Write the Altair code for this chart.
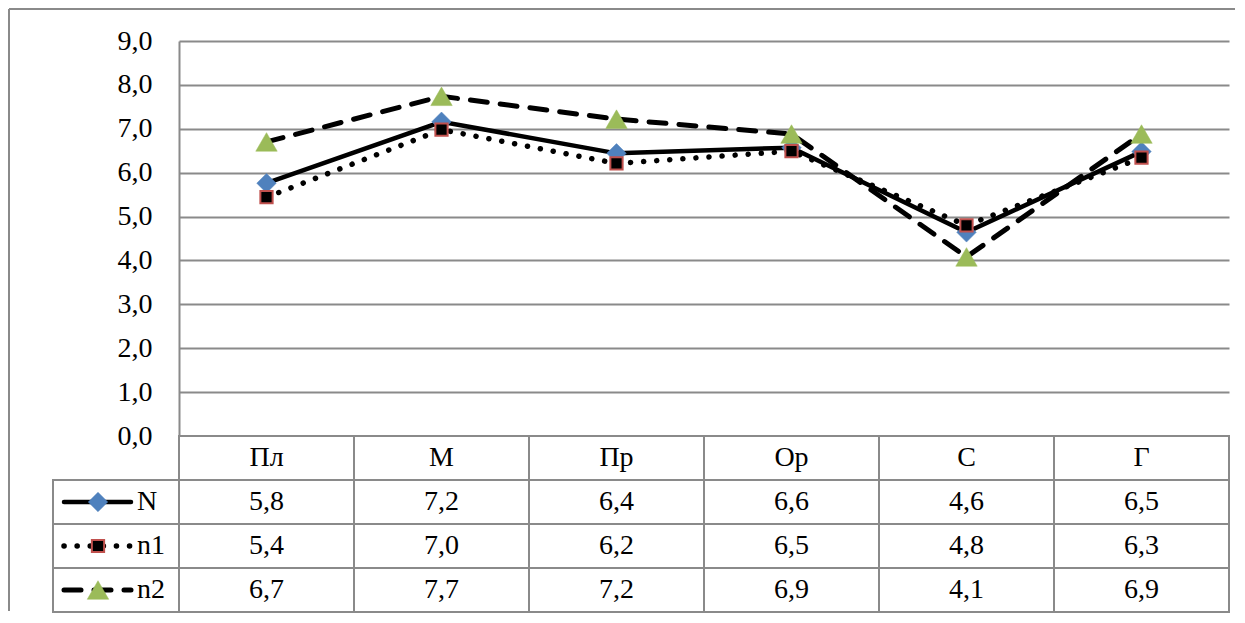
import altair as alt
import pandas as pd

categories = ["Пл", "М", "Пр", "Ор", "С", "Г"]
series_names = ["N", "n1", "n2"]
values_N = [5.76, 7.16, 6.44, 6.57, 4.64, 6.48]
values_n1 = [5.44, 6.98, 6.21, 6.49, 4.80, 6.34]
values_n2 = [6.70, 7.74, 7.22, 6.88, 4.08, 6.88]
y_ticks = [0, 1, 2, 3, 4, 5, 6, 7, 8, 9]

GRID = "#8a8a8a"
FONT = "Liberation Serif, Times New Roman, serif"
FS = 28

rows = []
for s, vals in zip(series_names, [values_N, values_n1, values_n2]):
    for c, v in zip(categories, vals):
        rows.append({"series": s, "cat": c, "value": v,
                     "label": f"{v:.1f}".replace(".", ",")})
df = pd.DataFrame(rows)

styles = {
    "N": dict(line=dict(strokeWidth=4.5),
              point=dict(shape="diamond", size=380, fill="#4F81BD", stroke="#4F81BD", strokeWidth=0.5)),
    "n1": dict(line=dict(strokeWidth=5.5, strokeDash=[0.1, 13]),
               point=dict(shape="square", size=150, fill="black", stroke="#C0504D", strokeWidth=2)),
    "n2": dict(line=dict(strokeWidth=5, strokeDash=[17, 13]),
               point=dict(shape="triangle-up", size=460, fill="#9BBB59", stroke="#9BBB59", strokeWidth=0.5)),
}

xs = alt.X("cat:N", sort=categories,
           scale=alt.Scale(type="point", domain=categories, padding=0.5), axis=None)
ys = alt.Y("value:Q",
           scale=alt.Scale(domain=[0, 9], nice=False, zero=True),
           axis=alt.Axis(values=y_ticks, grid=True, ticks=False, title=None,
                         labelExpr="replace(format(datum.value, '.1f'), '.', ',')",
                         labelFont=FONT, labelFontSize=FS, labelColor="black",
                         labelPadding=27, domain=True, domainColor=GRID, domainWidth=2,
                         gridColor=GRID, gridWidth=2))

one = pd.DataFrame({"k": [0]})
frame_left = alt.Chart(one).mark_rule(color=GRID, strokeWidth=2).encode(
    x=alt.value(-170), y=alt.value(-32), y2=alt.value(570))
frame_top = alt.Chart(one).mark_rule(color=GRID, strokeWidth=2).encode(
    x=alt.value(-170), x2=alt.value(1056), y=alt.value(-32))

layers = [frame_left, frame_top]
for s in series_names:
    st = styles[s]
    sub = alt.Chart(df).transform_filter(alt.datum.series == s)
    layers.append(sub.mark_line(color="black", strokeCap="round", **st["line"]).encode(x=xs, y=ys))
    layers.append(sub.mark_point(filled=True, opacity=1, **st["point"]).encode(x=xs, y=ys))

plot = alt.layer(*layers).properties(width=1050, height=395)

# ---- data table ----
row_order = ["hdr"] + series_names
cells = [{"row": "hdr", "cat": c, "text": c} for c in categories]
cells += [{"row": r["series"], "cat": r["cat"], "text": r["label"]} for r in rows]
cells_df = pd.DataFrame(cells)
legend_df = pd.DataFrame({"row": series_names, "name": series_names})

tx = alt.X("cat:N", sort=categories,
           scale=alt.Scale(domain=categories, paddingInner=0, paddingOuter=0), axis=None)
tscale = alt.Scale(domain=row_order, paddingInner=0, paddingOuter=0)
ty = alt.Y("row:N", sort=row_order, scale=tscale, axis=None)
tyc = alt.Y("row:N", sort=row_order, scale=tscale, axis=None, bandPosition=0.5)

tbase = alt.Chart(cells_df)
t_rects = tbase.mark_rect(fill="white", stroke=GRID, strokeWidth=2).encode(x=tx, y=ty)
t_texts = tbase.mark_text(font=FONT, fontSize=FS, color="black", baseline="middle").encode(
    x=tx, y=tyc, text="text:N")

lbase = alt.Chart(legend_df)
l_rects = lbase.mark_rect(fill="white", stroke=GRID, strokeWidth=2).encode(
    x=alt.value(-126), x2=alt.value(0), y=ty)
l_texts = lbase.mark_text(font=FONT, fontSize=FS, color="black", align="left",
                          baseline="middle").encode(x=alt.value(-42), y=tyc, text="name:N")

t_layers = [t_rects, t_texts, l_rects, l_texts]
for s in series_names:
    st = styles[s]
    sub = lbase.transform_filter(alt.datum.row == s)
    t_layers.append(sub.mark_rule(color="black", strokeCap="round", **st["line"]).encode(
        x=alt.value(-115), x2=alt.value(-48), y=tyc))
    t_layers.append(sub.mark_point(filled=True, opacity=1, **st["point"]).encode(
        x=alt.value(-81), y=tyc))

table = alt.layer(*t_layers).properties(width=1050, height=176)

chart = alt.vconcat(plot, table, spacing=0, bounds="flush").resolve_scale(
    x="independent", y="independent").properties(
    padding={"left": 0, "top": 0, "right": 0, "bottom": 0}).configure_view(
    stroke=None)

chart.save("out.html", embed_options={"renderer": "svg", "actions": False})
